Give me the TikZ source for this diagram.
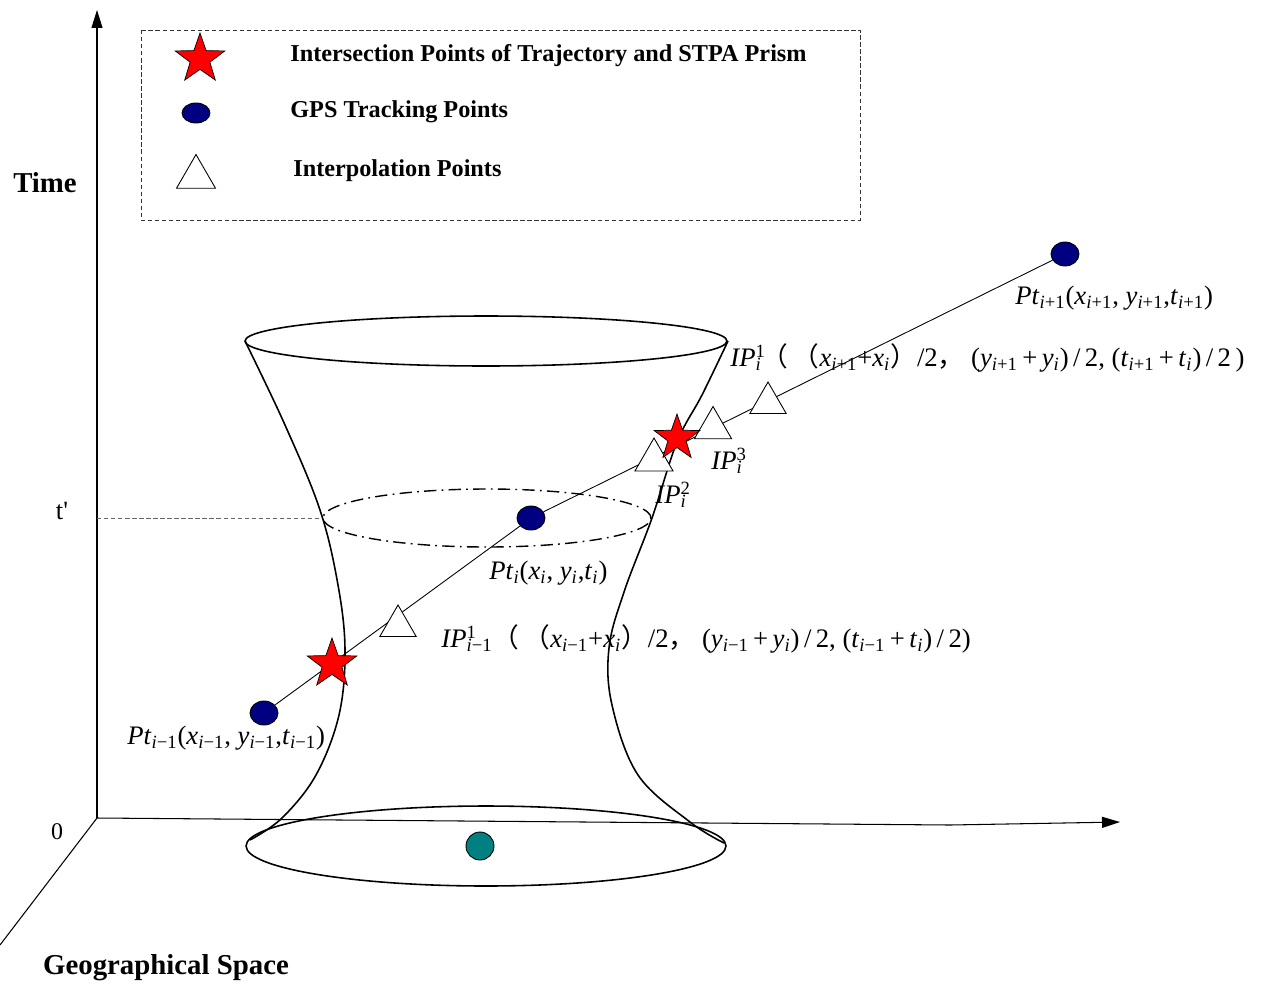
\documentclass[tikz,border=0pt]{standalone}
\usepackage{fontspec}
\setmainfont{Liberation Serif}
\newfontfamily\cjk{Noto Sans CJK SC}
\usetikzlibrary{shapes.geometric,arrows.meta}
\definecolor{gpsblue}{RGB}{0,0,128}
\definecolor{tealpt}{RGB}{0,128,128}
\newcommand{\sbs}[1]{\textsubscript{#1}}
\newcommand{\supsub}[2]{\makebox[0pt][l]{\textsuperscript{#1}}\textsubscript{#2}}
\newcommand{\iv}{\textit{i}}
\tikzset{
  axis/.style={line width=0.6pt, -{Triangle[length=0.36cm,width=0.22cm]}},
  prism/.style={line width=0.9pt},
  traj/.style={line width=0.5pt},
  gps/.style={ellipse, draw=black, line width=0.5pt, fill=gpsblue, minimum width=0.56cm, minimum height=0.48cm, inner sep=0pt},
  stpastar/.style={star, star points=5, star point ratio=2.5, draw=black, line width=0.4pt, fill=red, minimum size=1.04cm, inner sep=0pt},
  ipt/.style={regular polygon, regular polygon sides=3, draw=black, line width=0.5pt, fill=white, minimum size=0.9cm, inner sep=0pt},
  legtext/.style={anchor=west, font=\fontsize{13.8pt}{16pt}\selectfont\bfseries, inner sep=0pt},
  lab/.style={anchor=west, font=\fontsize{15.2pt}{18pt}\selectfont, inner sep=0pt},
  bigtext/.style={font=\fontsize{16.4pt}{19pt}\selectfont\bfseries, inner sep=0pt},
}
\begin{document}
\begin{tikzpicture}[x=0.02cm,y=-0.02cm]
\useasboundingbox (0,0) rectangle (1267,987);
% axes
\coordinate (O) at (97,818);
\coordinate (Ytop) at (97,10);
\coordinate (Xmid) at (950,825);
\coordinate (Xend) at (1120,822);
\coordinate (Zend) at (0,945);
\draw[axis] (O) -- (Ytop);
\draw[axis] (O) -- (Xmid) -- (Xend);
\draw[line width=0.6pt] (O) -- (Zend);
\node[bigtext] (time) at (45,183) {Time};
\node[bigtext] (geo) at (166,968) {Geographical Space};
\node[font=\fontsize{13.6pt}{16pt}\selectfont, inner sep=0pt] (zero) at (57,832) {0};
\node[font=\fontsize{15pt}{16pt}\selectfont, inner sep=0pt] (tp) at (62,511) {t\textquotesingle};
\coordinate (tpa) at (97,518);
\coordinate (tpb) at (322,518);
\draw[gray!80!black, dashed, line width=0.5pt, dash pattern=on 2.5pt off 1.5pt] (tpa) -- (tpb);
% legend
\draw[line width=0.5pt, dash pattern=on 2.5pt off 1.5pt, black!80] (141,30) rectangle (860,220);
\node[stpastar] (ls) at (200,59) {};
\node[gps, minimum height=0.4cm] (lg) at (196,113) {};
\node[ipt] (lt) at (196,177) {};
\node[legtext] (lst) at (290,56) {Intersection Points of Trajectory and STPA Prism};
\node[legtext] (lgt) at (290,112) {GPS Tracking Points};
\node[legtext] (ltt) at (293,171) {Interpolation Points};
% prism
\draw[prism] (486,341) ellipse [x radius=4.82cm, y radius=0.5cm];
\draw[prism] (486,846) ellipse [x radius=4.8cm, y radius=0.8cm];
\draw[line width=0.8pt, dash pattern=on 7pt off 3pt on 1pt off 3pt] (487,518) ellipse [x radius=3.28cm, y radius=0.58cm];
\draw[prism] plot[smooth, tension=0.6] coordinates {(245,341) (285,425) (320,510) (338,585) (345,650) (339,715) (316,775) (282,818) (250,840)};
\draw[prism] plot[smooth, tension=0.6] coordinates {(728,341) (702,395) (677,442) (652,518) (624,592) (609,648) (612,705) (638,775) (690,822) (724,843)};
% points
\node[gps] (p1) at (264,713) {};
\node[gps] (p2) at (531,518) {};
\node[gps] (p3) at (1065,254) {};
\node[circle, draw=black, line width=0.5pt, fill=tealpt, minimum size=0.56cm, inner sep=0pt] (pc) at (480,846) {};
\draw[traj] (p1) -- (p2) -- (p3);
\node[ipt, minimum size=0.84cm] (t1) at (398,626) {};
\node[ipt, minimum size=0.88cm] (t2) at (654,460) {};
\node[ipt, minimum size=0.86cm] (t3) at (713,428) {};
\node[ipt, minimum size=0.84cm] (t4) at (768,403) {};
\node[stpastar] (s1) at (332,664) {};
\node[stpastar, minimum size=0.96cm] (s2) at (677,438) {};
% labels
\node[lab] (lp3) at (1015,298) {\textit{Pt}\sbs{\iv+1}(\textit{x}\sbs{\iv+1}, \textit{y}\sbs{\iv+1},\textit{t}\sbs{\iv+1})};
\node[lab] (lp2) at (489,573) {\textit{Pt}\sbs{\iv}(\textit{x}\sbs{\iv}, \textit{y}\sbs{\iv},\textit{t}\sbs{\iv})};
\node[lab] (lp1) at (127,738) {\textit{Pt}\sbs{\iv−1}(\textit{x}\sbs{\iv−1}, \textit{y}\sbs{\iv−1},\textit{t}\sbs{\iv−1})};
\node[lab] (lip3) at (711,461) {\textit{IP}\supsub{3}{\iv}};
\node[lab] (lip2) at (655,495) {\textit{IP}\supsub{2}{\iv}};
\node[lab] (lip1) at (730,358) {\textit{IP}\supsub{1}{\iv}{\cjk （}\,{\cjk （}\textit{x}\sbs{\iv+1}+\textit{x}\sbs{\iv}{\cjk ）}/2{\cjk ，} (\textit{y}\sbs{\iv+1}\,+\,\textit{y}\sbs{\iv})\,/\,2, (\textit{t}\sbs{\iv+1}\,+\,\textit{t}\sbs{\iv})\,/\,2\,)};
\node[lab] (lip0) at (441,639) {\textit{IP}\supsub{1}{\iv−1}{\cjk （}\,{\cjk （}\textit{x}\sbs{\iv−1}+\textit{x}\sbs{\iv}{\cjk ）}/2{\cjk ，} (\textit{y}\sbs{\iv−1}\,+\,\textit{y}\sbs{\iv})\,/\,2, (\textit{t}\sbs{\iv−1}\,+\,\textit{t}\sbs{\iv})\,/\,2)};
\end{tikzpicture}
\end{document}
